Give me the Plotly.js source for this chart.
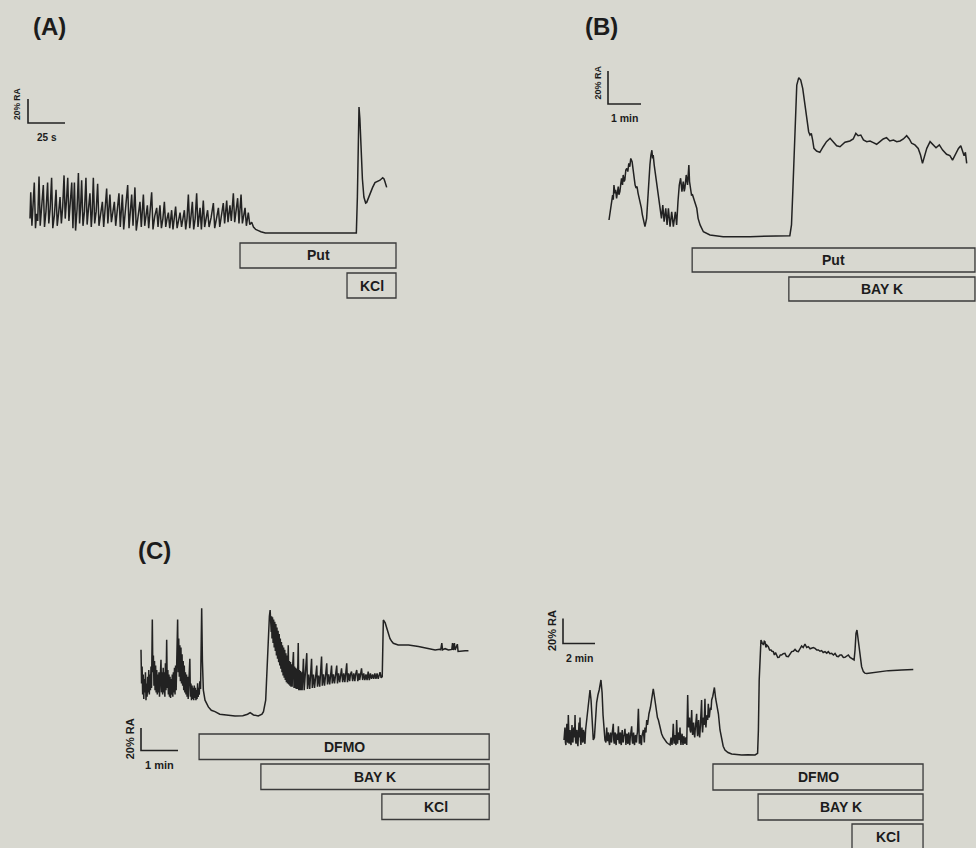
<!DOCTYPE html>
<html><head><meta charset="utf-8">
<script src="https://cdn.plot.ly/plotly-3.0.1.min.js"></script>
<style>html,body{margin:0;padding:0;background:#d8d8d0;}#chart{width:976px;height:848px;}</style>
</head><body><div id="chart"></div>
<script>
// ---------- DATA (time, % RA) ----------
// Panel A: time in s
const traceA = [[0,12],[0.5,34],[1.3,6],[2,18],[2.9,42],[3.7,4],[4.5,16],[5.2,10],[6.1,47],[6.9,6],[7.8,20],[9,40],[9.8,5],[10.8,18],[11.9,42],[12.7,8],[13.6,20],[14.6,46],[15.4,4],[16.5,15],[17.6,36],[18.4,6],[19.3,16],[20.3,30],[21.2,8],[22.1,22],[23,48],[23.8,12],[24.6,26],[25.5,46],[26.3,10],[27.2,24],[28.2,42],[29,4],[30,42],[30.8,2],[31.8,20],[32.7,50],[33.5,8],[34.2,22],[34.9,44],[35.8,6],[36.8,18],[37.8,46],[38.6,7],[39.5,20],[40.5,33],[41.4,5],[42,16],[42.8,46],[43.7,8],[44.7,18],[45.7,41],[46.6,6],[47.8,16],[48.9,26],[49.8,5],[50.8,18],[51.8,37],[52.6,8],[53.3,22],[54,32],[55,9],[56,20],[57,26],[57.9,6],[59,22],[60.1,33],[61,5],[61.7,20],[62.4,32],[63.3,3],[64.5,18],[66,40],[66.9,4],[67.8,20],[68.7,32],[69.6,6],[70.2,18],[70.9,38],[71.8,2],[73,16],[74.3,26],[75.2,5],[75.9,18],[76.6,32],[77.5,6],[78.4,14],[79.3,23],[80.2,4],[81.2,16],[82.2,34],[83.1,3],[84.3,14],[85.6,21],[86.5,5],[87.1,14],[87.8,23],[88.8,4],[89.8,12],[90.8,26],[91.7,5],[92.6,12],[93.5,17],[94.4,4],[95,12],[95.7,19],[96.6,3],[97.5,13],[98.4,22],[99.4,4],[100.4,12],[101.4,17],[102.4,5],[103.4,12],[104.3,19],[105.2,3],[106.1,12],[107,32],[107.9,4],[108.8,14],[109.7,26],[110.6,3],[111.6,12],[112.6,33],[113.5,5],[114.2,13],[114.9,21],[115.8,3],[116.4,12],[117.1,27],[118,5],[119,12],[120,19],[121,5],[122.4,13],[123.9,25],[124.8,4],[126,12],[127.3,21],[128.2,5],[129.4,14],[130.6,25],[131.5,8],[132.2,17],[132.9,27],[133.8,9],[134.5,18],[135.1,23],[136,10],[136.7,22],[137.4,33],[138.3,9],[139.3,20],[140.3,29],[141.2,8],[141.9,18],[142.6,32],[143.5,8],[144.4,16],[145.3,21],[146.2,6],[146.8,13],[147.5,17],[148.5,7],[149.8,9],[151,5],[152.5,3],[154.3,2],[156,1],[159,0],[190,-0.3],[220.5,0],[221.2,30],[221.8,80],[222.3,105],[222.9,95],[223.6,70],[224.6,45],[225.6,30],[226.8,25],[227.5,25.5],[229.7,33],[231.5,38],[233.1,42],[234.8,43],[236.5,44],[238.3,46],[239.2,45],[239.9,42.5],[241,38]];
const drugsA = ['Put','KCl'];
const drugsA_start = [141.9, 214.2];
const drugsA_end = [247.3, 247.3];

// Panel B: time in min
const traceB = [[0,9.7],[0.03,14],[0.05,16.8],[0.08,21],[0.11,24.8],[0.13,22],[0.15,30.9],[0.18,25.9],[0.2,28],[0.23,22.8],[0.25,27],[0.28,29.9],[0.3,25],[0.33,26.9],[0.36,32],[0.38,34.9],[0.41,31],[0.43,37],[0.46,33],[0.48,34],[0.51,40],[0.54,41],[0.57,39],[0.6,44],[0.63,42],[0.66,47],[0.7,45],[0.73,40],[0.76,37],[0.79,31],[0.82,29],[0.85,30],[0.88,26],[0.92,23],[0.95,20],[0.98,17],[1.01,13],[1.04,9.7],[1.09,5.7],[1.14,10.7],[1.18,27],[1.21,36],[1.24,43],[1.27,49],[1.3,52],[1.32,47],[1.34,49],[1.37,43],[1.39,40],[1.42,34],[1.44,31],[1.47,26],[1.49,23],[1.52,19],[1.54,17],[1.57,13],[1.59,10.7],[1.63,18.8],[1.67,8.7],[1.72,16.8],[1.76,6.7],[1.8,16.8],[1.85,5.7],[1.9,14.7],[1.95,5.7],[2.01,14.7],[2.05,6.7],[2.09,20.8],[2.11,26],[2.13,30.9],[2.17,35],[2.21,26.9],[2.25,33],[2.28,27],[2.3,29],[2.34,37],[2.38,30.9],[2.42,43],[2.44,33],[2.46,29],[2.48,27],[2.5,24.8],[2.53,25],[2.56,22.8],[2.61,20.8],[2.66,16.8],[2.7,10.7],[2.76,6.7],[2.86,2.6],[3.06,0.6],[3.46,-0.4],[4.27,-0.4],[5.48,0.2],[5.53,6.7],[5.57,27],[5.61,53],[5.65,79],[5.69,91.5],[5.75,96],[5.81,94.5],[5.87,89.5],[5.93,81.4],[5.99,71.3],[6.05,63.2],[6.09,61.2],[6.13,62.2],[6.17,58.2],[6.21,53.1],[6.29,51.5],[6.39,50.7],[6.49,54.1],[6.59,57.2],[6.7,59.2],[6.8,56.8],[6.9,54.7],[7,54.1],[7.15,56.8],[7.3,57.6],[7.4,58.8],[7.48,62.2],[7.55,60.8],[7.63,61.2],[7.71,58.2],[7.81,57.2],[7.91,57.6],[8.01,56.6],[8.11,55.6],[8.21,57.2],[8.31,58.8],[8.41,59.6],[8.51,57.6],[8.62,58.2],[8.72,57.2],[8.82,57.6],[8.92,58.8],[9.02,60.8],[9.1,58.8],[9.17,56.2],[9.27,55.2],[9.37,53.1],[9.44,49.1],[9.5,44],[9.56,49.1],[9.63,53.1],[9.73,57.2],[9.81,55.6],[9.91,53.5],[10.01,55.2],[10.11,52.1],[10.23,49.5],[10.33,48.7],[10.41,46],[10.48,49.1],[10.59,53.1],[10.66,54.7],[10.72,51.1],[10.76,48.7],[10.8,50.7],[10.84,44]];
const drugsB = ['Put','BAY K'];
const drugsB_start = [2.52, 5.45];
const drugsB_end = [11.09, 11.09];

// Panel C (left): time in min
const traceCL = [[0,60],[0.015,30],[0.03,45],[0.045,20],[0.06,38],[0.075,16],[0.09,34],[0.105,22],[0.12,40],[0.135,15],[0.15,30],[0.165,18],[0.18,36],[0.195,22],[0.21,42],[0.225,20],[0.24,38],[0.255,24],[0.27,45],[0.285,26],[0.306,87],[0.32,40],[0.335,55],[0.35,28],[0.365,50],[0.38,24],[0.395,46],[0.41,22],[0.425,42],[0.44,20],[0.455,38],[0.47,22],[0.485,40],[0.5,18],[0.515,36],[0.54,51],[0.555,22],[0.57,40],[0.585,20],[0.6,44],[0.615,22],[0.63,40],[0.645,18],[0.66,48],[0.675,24],[0.694,69],[0.71,26],[0.725,42],[0.74,20],[0.755,38],[0.77,18],[0.785,36],[0.8,17],[0.815,34],[0.83,20],[0.845,38],[0.86,18],[0.875,40],[0.89,22],[0.905,44],[0.92,20],[0.935,46],[0.95,24],[0.965,52],[0.99,87],[1.005,40],[1.02,70],[1.035,36],[1.05,64],[1.065,32],[1.08,62],[1.095,30],[1.11,56],[1.125,28],[1.14,50],[1.155,24],[1.17,46],[1.185,22],[1.2,40],[1.215,20],[1.23,38],[1.245,18],[1.26,36],[1.275,16],[1.29,32],[1.32,52],[1.335,18],[1.35,30],[1.365,15],[1.38,28],[1.395,16],[1.41,26],[1.425,15],[1.44,28],[1.455,17],[1.47,26],[1.485,15],[1.5,24],[1.515,16],[1.53,30],[1.545,18],[1.56,26],[1.575,20],[1.59,32],[1.61,25],[1.64,97],[1.66,50],[1.685,24],[1.73,15],[1.82,9],[1.9,6],[2.0,4.8],[2.13,2.5],[2.27,1.8],[2.54,0.9],[2.75,1.2],[2.88,2.5],[2.95,3.9],[3.0,2.5],[3.04,1.8],[3.17,0.9],[3.27,2.5],[3.31,4.8],[3.35,10],[3.37,15],[3.39,30],[3.41,45],[3.44,75],[3.47,90],[3.49,95.5],[3.5,80],[3.51,92],[3.52,76],[3.53,90],[3.54,70],[3.555,89],[3.57,66],[3.585,87],[3.6,62],[3.615,85],[3.63,59],[3.645,83],[3.66,55],[3.675,80],[3.69,52],[3.705,77],[3.72,49],[3.735,74],[3.75,46],[3.765,70],[3.78,43],[3.795,67],[3.81,40],[3.825,64],[3.84,37],[3.855,62],[3.87,35],[3.885,60],[3.9,33],[3.915,57],[3.93,31],[3.945,55],[3.96,30],[3.98,64],[3.995,29],[4.01,50],[4.025,28],[4.04,49],[4.055,27],[4.07,47],[4.085,27],[4.1,46],[4.12,58],[4.135,26],[4.15,45],[4.165,26],[4.18,44],[4.195,25],[4.21,43],[4.225,25],[4.25,66],[4.265,24],[4.28,42],[4.295,24],[4.31,41],[4.325,24],[4.34,40],[4.355,24],[4.37,39],[4.39,52],[4.41,24],[4.44,38],[4.48,57],[4.5,25],[4.53,38],[4.56,25],[4.58,37],[4.61,52],[4.63,26],[4.66,38],[4.69,26],[4.72,37],[4.75,46],[4.77,27],[4.8,37],[4.83,27],[4.85,38],[4.88,54],[4.9,28],[4.93,38],[4.96,28],[4.99,37],[5.02,48],[5.04,29],[5.07,38],[5.1,29],[5.12,38],[5.15,46],[5.17,30],[5.2,38],[5.23,30],[5.26,38],[5.29,46],[5.31,30],[5.34,39],[5.37,31],[5.4,38],[5.42,43.5],[5.45,31],[5.48,39],[5.51,31],[5.53,38],[5.56,48],[5.58,31],[5.61,39],[5.64,32],[5.66,38],[5.69,40.5],[5.72,32],[5.75,39],[5.78,32],[5.8,38],[5.83,42],[5.86,32],[5.89,39],[5.91,33],[5.94,38],[5.96,43.5],[5.99,33],[6.02,39],[6.05,33],[6.08,38],[6.11,33],[6.14,40.5],[6.17,33],[6.2,39],[6.23,34],[6.26,38],[6.29,34],[6.32,39],[6.35,34],[6.38,39],[6.41,34],[6.44,38],[6.46,40],[6.49,35],[6.52,36],[6.54,70],[6.55,86.6],[6.6,84],[6.64,80],[6.69,74],[6.73,70],[6.78,67.3],[6.82,65.8],[6.95,64.3],[7.23,64.3],[7.5,63],[7.77,61],[7.95,59.8],[8.07,60.4],[8.1,60],[8.13,66],[8.15,60],[8.22,61],[8.31,59.8],[8.4,60.3],[8.42,66],[8.44,59.8],[8.47,66],[8.49,59.8],[8.55,65],[8.57,58.5],[8.65,59],[8.76,59.2],[8.85,59.2]];
const drugsCL = ['DFMO','BAY K','KCl'];
const drugsCL_start = [1.57, 3.24, 6.51];
const drugsCL_end = [9.41, 9.41, 9.41];

// Panel C (right): time in min
const traceCR = [[0,12],[0.03,20],[0.06,22],[0.09,10],[0.12,8],[0.15,18],[0.18,25],[0.21,12],[0.24,10],[0.27,32],[0.3,14],[0.32,9],[0.35,18],[0.38,20],[0.41,10],[0.44,8],[0.47,16],[0.5,24],[0.53,12],[0.56,10],[0.59,20],[0.62,22],[0.66,14],[0.69,32],[0.72,12],[0.75,9],[0.78,18],[0.81,20],[0.84,10],[0.87,7],[0.9,16],[0.94,26],[0.97,14],[1.0,30],[1.03,12],[1.06,8],[1.09,16],[1.12,22],[1.15,12],[1.18,10],[1.21,20],[1.25,18],[1.28,11],[1.31,9],[1.35,20],[1.38,24],[1.44,30],[1.5,40],[1.56,48],[1.625,52],[1.69,44],[1.75,28],[1.83,12],[1.9,14],[1.96,30],[2.04,42],[2.12,48],[2.2,52],[2.31,60],[2.38,50],[2.44,32],[2.5,18],[2.56,12],[2.62,10],[2.67,22],[2.7,14],[2.73,11],[2.76,18],[2.79,16],[2.82,10],[2.85,8],[2.88,15],[2.91,18],[2.94,12],[2.97,10],[3.0,16],[3.03,20],[3.08,25],[3.11,12],[3.14,9],[3.17,16],[3.2,18],[3.23,10],[3.26,8],[3.29,15],[3.32,17],[3.36,12],[3.4,23],[3.43,12],[3.46,9],[3.49,16],[3.52,18],[3.55,10],[3.58,8],[3.61,16],[3.64,20],[3.67,12],[3.7,10],[3.73,15],[3.76,16],[3.81,21],[3.84,10],[3.87,8],[3.9,15],[3.93,17],[3.96,11],[3.99,9],[4.02,16],[4.05,18],[4.08,10],[4.11,8],[4.14,14],[4.17,16],[4.23,23],[4.26,12],[4.29,9],[4.32,15],[4.35,18],[4.38,10],[4.41,8],[4.44,14],[4.47,16],[4.5,12],[4.53,10],[4.56,16],[4.59,18],[4.65,37],[4.68,14],[4.71,9],[4.74,14],[4.77,16],[4.8,10],[4.84,8],[4.87,15],[4.9,18],[4.96,20],[5.02,10],[5.06,22],[5.12,18],[5.17,28],[5.22,24],[5.27,30],[5.31,33],[5.4,38],[5.48,46],[5.58,53],[5.66,46],[5.75,36],[5.84,30],[5.9,28],[6.0,22],[6.1,17],[6.2,14],[6.3,12],[6.42,10],[6.52,9],[6.63,8],[6.69,14],[6.72,10],[6.75,8],[6.79,14],[6.83,25],[6.88,9],[6.91,14],[6.94,16],[6.97,10],[7.0,8],[7.04,28],[7.07,14],[7.1,9],[7.13,15],[7.17,18],[7.21,12],[7.25,22],[7.28,12],[7.31,8],[7.34,14],[7.38,17],[7.41,11],[7.44,8],[7.47,13],[7.5,15],[7.53,11],[7.56,9],[7.59,13],[7.62,14],[7.67,8],[7.7,20],[7.73,48],[7.76,30],[7.79,22],[7.82,27],[7.85,30],[7.88,20],[7.92,18],[7.95,26],[7.98,36],[8.01,22],[8.04,16],[8.07,22],[8.1,26],[8.13,18],[8.17,14],[8.2,20],[8.23,24],[8.29,33],[8.32,20],[8.35,15],[8.38,22],[8.41,28],[8.44,18],[8.48,14],[8.51,20],[8.54,26],[8.6,44],[8.63,24],[8.66,18],[8.69,24],[8.72,30],[8.76,24],[8.81,45],[8.84,28],[8.87,22],[8.9,28],[8.94,32],[8.98,28],[9.02,41],[9.05,32],[9.08,30],[9.12,35],[9.15,38],[9.19,36],[9.23,44],[9.3,47],[9.4,54],[9.48,45],[9.56,38],[9.65,33],[9.75,20],[9.85,12],[9.95,7],[10.06,4],[10.25,2],[10.48,0.8],[10.8,0.3],[11.1,0],[11.5,0.2],[11.94,0],[12.1,1.3],[12.15,20],[12.2,60],[12.25,85],[12.31,92],[12.38,90],[12.46,88],[12.52,91],[12.56,90.7],[12.62,86],[12.67,88],[12.77,86.7],[12.85,84],[12.94,84],[13.0,83],[13.08,82.7],[13.15,80],[13.22,82],[13.29,80],[13.36,78],[13.44,78.1],[13.52,80],[13.6,80],[13.7,81],[13.81,81.3],[13.9,79],[14.02,78.7],[14.12,81],[14.23,82.7],[14.33,83],[14.44,84.5],[14.55,83],[14.65,82.7],[14.75,85],[14.85,87.2],[14.95,86],[15.06,88.8],[15.17,86],[15.27,86.7],[15.38,85],[15.48,85.3],[15.58,86],[15.69,85.3],[15.8,84],[15.9,84],[16.0,83],[16.1,83.5],[16.2,82],[16.31,82.7],[16.42,81.5],[16.52,82.7],[16.62,81],[16.73,81.3],[16.84,80],[16.94,81.3],[17.05,79],[17.15,78.7],[17.25,80],[17.35,80],[17.46,78],[17.56,78.1],[17.66,79],[17.77,80],[17.88,78],[17.98,77.3],[18.08,76.5],[18.13,76],[18.19,84],[18.25,97.3],[18.31,100],[18.36,94],[18.4,92],[18.45,84],[18.5,78.7],[18.55,74],[18.6,70.7],[18.71,66.7],[18.8,65.5],[18.92,65.3],[19.23,65.9],[19.65,66.7],[20.27,67.5],[21.1,68],[21.83,68.5]];
const drugsCR = ['DFMO','BAY K','KCl'];
const drugsCR_start = [9.31, 12.13, 18.0];
const drugsCR_end = [22.44, 22.44, 22.44];

// scale bars (data units)
const scaleRA = 20;
const scaleTime = [25, 1, 1, 2];
const scaleTimeLabels = ['25 s', '1 min', '1 min', '2 min'];
const scaleRALabel = '20% RA';

// ---------- LAYOUT / STYLE ----------
const W = 976, H = 848;
const INK = '#222222';
const TXT = '#1c1c1c';
const FONT = 'Liberation Sans, Arial, sans-serif';
const panels = [
  {xa:'x', ya:'y', x0:30, kx:1.48, y0:233, ky:1.2, data:traceA, drugs:drugsA, start:drugsA_start, end:drugsA_end,
   bar:{px:28, py:123, raSize:8.5, tSize:10, raDy:7}, rows:{top:243, h:25, pitch:30}},
  {xa:'x2', ya:'y2', x0:609, kx:33, y0:236, ky:1.65, data:traceB, drugs:drugsB, start:drugsB_start, end:drugsB_end,
   bar:{px:608, py:104, raSize:9, tSize:10.5, raDy:5}, rows:{top:248, h:24, pitch:29}},
  {xa:'x3', ya:'y3', x0:141, kx:37, y0:717, ky:1.12, data:traceCL, drugs:drugsCL, start:drugsCL_start, end:drugsCL_end,
   bar:{px:141, py:750.5, raSize:11, tSize:11, raDy:0}, rows:{top:734, h:25.5, pitch:30}},
  {xa:'x4', ya:'y4', x0:564, kx:16, y0:755, ky:1.25, data:traceCR, drugs:drugsCR, start:drugsCR_start, end:drugsCR_end,
   bar:{px:563, py:643.5, raSize:11, tSize:10.5, raDy:0}, rows:{top:764, h:26, pitch:30}}
];
const toT = (p, px) => (px - p.x0) / p.kx;
const toRA = (p, py) => (p.y0 - py) / p.ky;

const traces = [], shapes = [], annotations = [];
const layout = {
  width: W, height: H, autosize: false,
  margin: {l:0, r:0, t:0, b:0, pad:0},
  paper_bgcolor: '#d8d8d0', plot_bgcolor: 'rgba(0,0,0,0)',
  showlegend: false, hovermode: false,
  font: {family: FONT, color: TXT}
};

panels.forEach((p, i) => {
  const xName = 'xaxis' + (i ? i + 1 : ''), yName = 'yaxis' + (i ? i + 1 : '');
  layout[xName] = {domain:[0,1], range:[toT(p,0), toT(p,W)], visible:false, fixedrange:true, anchor:p.ya};
  layout[yName] = {domain:[0,1], range:[toRA(p,H), toRA(p,0)], visible:false, fixedrange:true, anchor:p.xa};

  traces.push({x: p.data.map(d => d[0]), y: p.data.map(d => d[1]), xaxis:p.xa, yaxis:p.ya,
    type:'scatter', mode:'lines', line:{color:INK, width:1.5}, hoverinfo:'skip'});

  // scale bar
  const bt = toT(p, p.bar.px), br = toRA(p, p.bar.py);
  traces.push({x:[bt, bt, bt + scaleTime[i]], y:[br + scaleRA, br, br], xaxis:p.xa, yaxis:p.ya,
    type:'scatter', mode:'lines', line:{color:INK, width:1.6}, hoverinfo:'skip'});
  annotations.push({xref:p.xa, yref:p.ya, x:bt, y:br + scaleRA/2, text:'<b>'+scaleRALabel+'</b>',
    textangle:-90, showarrow:false, xanchor:'center', yanchor:'middle', xshift:-11, yshift:p.bar.raDy,
    font:{size:p.bar.raSize, family:FONT, color:TXT}});
  annotations.push({xref:p.xa, yref:p.ya, x:bt + scaleTime[i]/2, y:br, text:'<b>'+scaleTimeLabels[i]+'</b>',
    showarrow:false, xanchor:'center', yanchor:'middle', yshift:-14, font:{size:p.bar.tSize, family:FONT, color:TXT}});

  // drug application boxes
  p.drugs.forEach((name, j) => {
    const top = p.rows.top + j * p.rows.pitch, bot = top + p.rows.h;
    shapes.push({type:'rect', xref:p.xa, yref:'paper', x0:p.start[j], x1:p.end[j],
      y0:1 - bot/H, y1:1 - top/H, line:{color:'#3a3a3a', width:1.3}, fillcolor:'rgba(0,0,0,0)'});
    annotations.push({xref:p.xa, yref:'paper', x:(p.start[j] + p.end[j]) / 2, y:1 - (top + p.rows.h/2)/H,
      xanchor:'center', yanchor:'middle',
      text:'<b>'+name+'</b>', showarrow:false, font:{size:14, family:FONT, color:TXT}});
  });
});

// panel letters
[['(A)', 49, 27], ['(B)', 601, 27], ['(C)', 154, 550]].forEach(([t, px, py]) => {
  annotations.push({xref:'paper', yref:'paper', x:px/W, y:1 - py/H, xanchor:'center', yanchor:'middle',
    text:'<b>'+t+'</b>', showarrow:false, font:{size:24, family:FONT, color:TXT}});
});

layout.shapes = shapes;
layout.annotations = annotations;
Plotly.newPlot('chart', traces, layout, {staticPlot:true, displayModeBar:false});
</script>
</body></html>
